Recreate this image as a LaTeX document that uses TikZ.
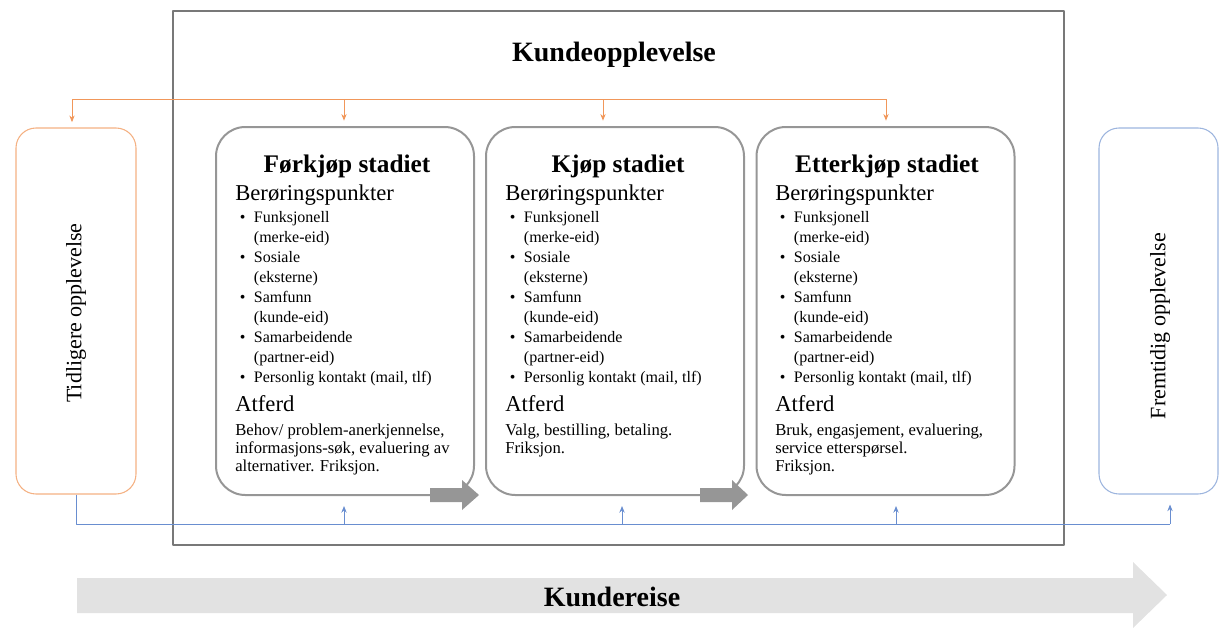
\documentclass[tikz,border=0pt]{standalone}
\usepackage{fontspec}
\setmainfont{Liberation Serif}
\usetikzlibrary{arrows.meta}

\definecolor{oransje}{RGB}{237,125,49}
\definecolor{lysoransje}{RGB}{244,177,131}
\definecolor{blaa}{RGB}{68,114,196}
\definecolor{lysblaa}{RGB}{157,181,222}
\definecolor{boksgraa}{RGB}{150,150,150}
\definecolor{rammegraa}{RGB}{120,120,120}
\definecolor{reisegraa}{RGB}{226,226,226}

\newcommand{\punktlinje}[2]{\makebox[14pt][l]{\hspace{3.5pt}\textbullet}#1\par
  \ifx\relax#2\relax\else\hspace*{14pt}#2\par\fi}
\newcommand{\beroring}{%
  {\fontsize{17}{19}\selectfont Berøringspunkter\par}
  \vspace{1.5pt}
  \fontsize{12}{15}\selectfont
  \punktlinje{Funksjonell}{(merke-eid)}
  \punktlinje{Sosiale}{(eksterne)}
  \punktlinje{Samfunn}{(kunde-eid)}
  \punktlinje{Samarbeidende}{(partner-eid)}
  \punktlinje{Personlig kontakt (mail, tlf)}{}
  {\fontsize{17}{21.75}\selectfont Atferd\par}}
\newcommand{\stadietekst}[1]{\begin{minipage}[t]{182pt}\beroring
  \vspace{4.5pt}{\fontsize{12.5}{13.5}\selectfont #1\par}\end{minipage}}

\tikzset{
  ramme/.style={draw=rammegraa, line width=1.1pt},
  stadie/.style={draw=boksgraa, line width=1.5pt, rounded corners=22pt,
    minimum width=193.5pt, minimum height=276pt},
  sideboks/.style={line width=0.8pt, rounded corners=15pt,
    minimum width=90pt, minimum height=274.5pt},
  overskrift/.style={font=\bfseries\fontsize{19}{22}\selectfont, anchor=base, inner sep=0},
  tekst/.style={anchor=base west, inner sep=0},
  oransjelinje/.style={draw=oransje!80, line width=0.7pt},
  blaalinje/.style={draw=blaa!80, line width=0.7pt},
  blokkpil/.style={fill=boksgraa}
}

\begin{document}
\begin{tikzpicture}[x=0.75pt, y=-0.75pt, >={Stealth[length=5pt,width=4pt]}, line join=round]
\useasboundingbox (0,0) rectangle (1219,628);

% ramme rundt kundeopplevelsen
\node[ramme, minimum width=668.25pt, minimum height=400.5pt] (ramme) at (618.5,278) {};
\node[font=\bfseries\fontsize{21}{24}\selectfont] (tittel) at (614,55) {Kundeopplevelse};

% tidligere og fremtidig opplevelse
\node[sideboks, draw=lysoransje] (tidl) at (76,311) {};
\node[rotate=90, font=\fontsize{16.5}{18}\selectfont] (tidltekst) at (76,313) {Tidligere opplevelse};
\node[sideboks, draw=lysblaa, minimum width=89.25pt] (fram) at (1158.5,311) {};
\node[rotate=90, font=\fontsize{16.5}{18}\selectfont] (framtekst) at (1160,326) {Fremtidig opplevelse};

% de tre stadiene
\node[stadie] (b1) at (345,311) {};
\node[stadie] (b2) at (615,311) {};
\node[stadie] (b3) at (885.5,311) {};

\node[overskrift] (h1) at (347,172) {Førkjøp stadiet};
\node[overskrift] (h2) at (618,172) {Kjøp stadiet};
\node[overskrift] (h3) at (887,172) {Etterkjøp stadiet};

\node[tekst] (t1) at (235,200) {\stadietekst{Behov/ problem-anerkjennelse,\\ informasjons-søk, evaluering av\\ alternativer. Friksjon.}};
\node[tekst] (t2) at (505,200) {\stadietekst{Valg, bestilling, betaling.\\ Friksjon.}};
\node[tekst] (t3) at (775,200) {\stadietekst{Bruk, engasjement, evaluering,\\ service etterspørsel.\\ Friksjon.}};

% grå piler mellom stadiene
\fill[blokkpil] (430,488) -- (462,488) -- (462,480) -- (479,495) -- (462,510) -- (462,502) -- (430,502) -- cycle;
\fill[blokkpil] (700,488) -- (732,488) -- (732,480) -- (748,495) -- (732,510) -- (732,502) -- (700,502) -- cycle;

% oransje linje ovenfra
\draw[oransjelinje] (72,99) -- (886,99);
\foreach \x/\b in {72/tidl, 344/b1, 603/b2, 886/b3}
  \draw[oransjelinje, ->, shorten >=4pt] (\x,99) -- (\x,0 |- \b.north);

% blå linje nedenfra
\draw[blaalinje] (tidl.south) |- (1170,524);
\foreach \x/\b in {344/b1, 622/b2, 896/b3, 1170/fram}
  \draw[blaalinje, ->, shorten >=7.5pt] (\x,524) -- (\x,0 |- \b.south);

% kundereise
\fill[reisegraa] (77,578) -- (1133,578) -- (1133,562) -- (1167,595) -- (1133,628) -- (1133,613) -- (77,613) -- cycle;
\node[font=\bfseries\fontsize{21}{24}\selectfont] (reise) at (612,597) {Kundereise};
\end{tikzpicture}
\end{document}
